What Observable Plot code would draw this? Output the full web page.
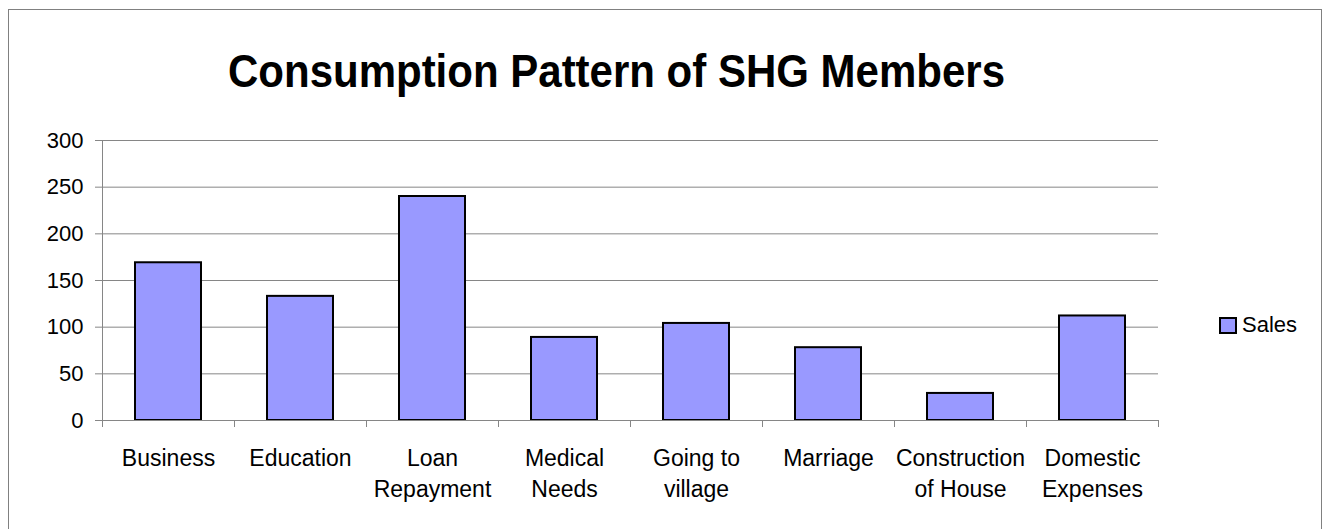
<!DOCTYPE html>
<html>
<head>
<meta charset="utf-8">
<script src="https://cdn.jsdelivr.net/npm/d3@7"></script>
<script src="https://cdn.jsdelivr.net/npm/@observablehq/plot@0.6"></script>
<style>
  html, body { margin: 0; padding: 0; background: #fff; }
  #wrap { position: relative; width: 1327px; height: 529px; overflow: hidden; font-family: "Liberation Sans", Arial, sans-serif; }
  #border { position: absolute; left: 8px; top: 9px; width: 1314px; height: 540px; border: 1px solid #808080; box-sizing: border-box; }
  #chart { position: absolute; left: 0; top: 0; }
  #title { position: absolute; left: 0; top: 0; }
  #legend { position: absolute; left: 1219px; top: 312px; display: flex; align-items: center; font-size: 22px; color: #000; }
  #legend .sw { width: 18px; height: 17px; box-sizing: border-box; background: #9999FF; border: 2px solid #000; margin-right: 5px; }
</style>
</head>
<body>
<div id="wrap">
  <div id="border"></div>
  <div id="chart"></div>
  <svg id="title" width="1327" height="110">
    <text x="616.5" y="87" text-anchor="middle" font-family="Liberation Sans, Arial, sans-serif" font-weight="bold" font-size="46" textLength="777" lengthAdjust="spacingAndGlyphs" fill="#000">Consumption Pattern of SHG Members</text>
  </svg>
  <div id="legend"><div class="sw"></div><span>Sales</span></div>
</div>
<script>
const categories = ["Business", "Education", "Loan\nRepayment", "Medical\nNeeds", "Going to\nvillage", "Marriage", "Construction\nof House", "Domestic\nExpenses"];
const values = [169, 133, 240, 89, 104, 78, 29, 112];
const yTicks = [0, 50, 100, 150, 200, 250, 300];
const seriesName = "Sales";

const data = categories.map((c, i) => ({i, category: c, value: values[i]}));
const boundaries = d3.range(categories.length + 1);
const centers = categories.map((c, i) => i + 0.5);

const plot = Plot.plot({
  width: 1327,
  height: 529,
  marginLeft: 102,
  marginRight: 169,
  marginTop: 140,
  marginBottom: 109,
  x: {type: "linear", domain: [0, categories.length], axis: null},
  y: {domain: [0, 300], axis: null},
  style: {fontFamily: "Liberation Sans, Arial, sans-serif", fontSize: "22px", background: "transparent", color: "#000"},
  marks: [
    Plot.gridY(yTicks, {stroke: "#868686", strokeOpacity: 1}),
    Plot.rect(data, {x1: d => d.i + 0.25, x2: d => d.i + 0.75, y1: 0, y2: d => d.value, fill: "#9999FF", stroke: "#000", strokeWidth: 2}),
    Plot.ruleX([0], {stroke: "#868686"}),
    Plot.ruleY([0], {stroke: "#868686"}),
    Plot.axisY(yTicks, {tickSize: 7, tickPadding: 12, stroke: "#868686", fill: "#000", fontSize: 22}),
    Plot.axisX(boundaries, {tickSize: 7, tickFormat: () => "", stroke: "#868686"}),
    Plot.axisX(centers, {tickSize: 0, tickPadding: 23, tickFormat: v => categories[Math.floor(v)], lineHeight: 1.35, fontSize: 23, fill: "#000"})
  ]
});
document.getElementById("chart").appendChild(plot);
document.querySelector("#legend span").textContent = seriesName;
</script>
</body>
</html>
